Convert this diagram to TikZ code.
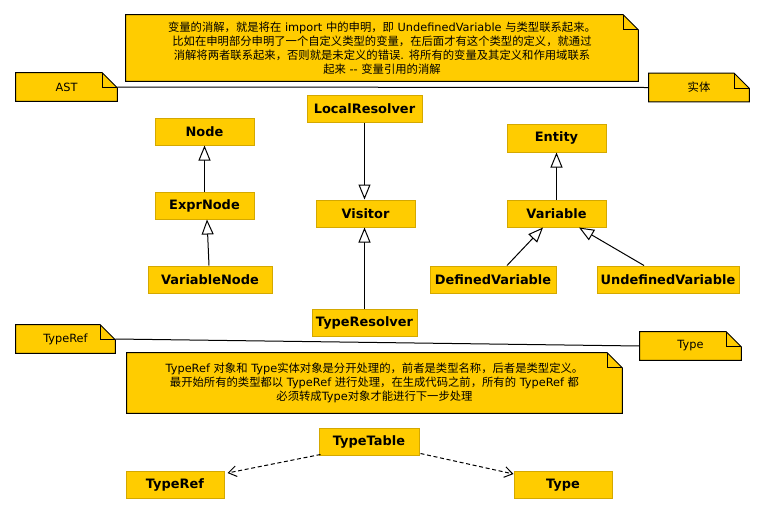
\documentclass[tikz,border=0pt]{standalone}
\usepackage{fontspec}
\setmainfont{DejaVu Sans}
\newfontfamily\cjk{Noto Sans CJK SC}
\usetikzlibrary{arrows.meta,calc,backgrounds}
\newcommand\zh[1]{{\cjk #1}}
\newdimen\upx \upx=0.75pt
\definecolor{yel}{HTML}{FFCC00}
\definecolor{clsborder}{HTML}{D4A800}
\tikzset{
  cls/.style={fill=yel, draw=clsborder, line width=0.75pt, inner sep=0pt,
    minimum height=27\upx, font=\fontsize{9.7pt}{11pt}\selectfont\bfseries},
  note/.style={inner sep=0pt, align=center, font=\fontsize{8.5pt}{10.5pt}\selectfont},
  noteshape/.style={fill=yel, draw=black, line width=0.75pt, line join=miter},
  noteline/.style={draw=black, line width=0.75pt},
  inherit/.style={line width=0.75pt, -{Triangle[length=11.25pt,width=9pt,fill=white]}},
  depend/.style={line width=0.75pt, dash pattern=on 3pt off 2pt, -{Straight Barb[length=6pt,width=8pt]}},
  assoc/.style={line width=0.75pt, draw=black}
}
\newcommand\notefold[1]{%
  \begin{scope}[on background layer]
    \draw[noteshape] (#1.south west) -- (#1.north west) -- ($(#1.north east)+(-15,0)$)
      -- ($(#1.north east)+(0,15)$) -- (#1.south east) -- cycle;
    \draw[noteline] ($(#1.north east)+(-15,0)$) -- ($(#1.north east)+(-15,15)$)
      -- ($(#1.north east)+(0,15)$);
  \end{scope}}
\begin{document}
\begin{tikzpicture}[x=0.75pt,y=-0.75pt]
\useasboundingbox (0,0) rectangle (765,515);

% notes
\node[note, minimum width=512\upx, minimum height=66\upx] (topnote) at (382,48) {%
\zh{变量的消解，就是将在} import \zh{中的申明，即} UndefinedVariable \zh{与类型联系起来。}\\
\zh{比如在申明部分申明了一个自定义类型的变量，在后面才有这个类型的定义，就通过}\\
\zh{消解将两者联系起来，否则就是未定义的错误}. \zh{将所有的变量及其定义和作用域联系}\\
\zh{起来} -{}- \zh{变量引用的消解}};
\notefold{topnote}

\node[note, minimum width=101\upx, minimum height=28\upx] (astn) at (66.5,87) {AST};
\notefold{astn}
\node[note, minimum width=100\upx, minimum height=28\upx] (entn) at (699,87.5) {\zh{实体}};
\notefold{entn}
\draw[assoc] (astn.east) -- (entn.west);

\node[note, minimum width=99\upx, minimum height=28\upx] (trn) at (65.5,339) {TypeRef};
\notefold{trn}
\node[note, minimum width=101\upx, minimum height=28\upx] (tn) at (690.5,346) {Type};
\notefold{tn}
\draw[assoc] (trn.east) -- (tn.west);

\node[note, minimum width=495\upx, minimum height=60\upx] (botnote) at (374.5,383) {%
TypeRef \zh{对象和} Type\zh{实体对象是分开处理的，前者是类型名称，后者是类型定义。}\\
\zh{最开始所有的类型都以} TypeRef \zh{进行处理，在生成代码之前，所有的} TypeRef \zh{都}\\
\zh{必须转成}Type\zh{对象才能进行下一步处理}};
\notefold{botnote}

% classes
\node[cls, minimum width=115\upx] (LocalResolver) at (364.5,108.5) {LocalResolver};
\node[cls, minimum width=99\upx] (Node) at (204.5,131.5) {Node};
\node[cls, minimum width=99\upx] (ExprNode) at (204.5,205.5) {ExprNode};
\node[cls, minimum width=124\upx] (VariableNode) at (210,279.5) {VariableNode};
\node[cls, minimum width=99\upx] (Visitor) at (365.5,213.5) {Visitor};
\node[cls, minimum width=105\upx] (TypeResolver) at (364.5,322.5) {TypeResolver};
\node[cls, minimum width=99\upx, minimum height=28\upx] (Entity) at (556.5,138) {Entity};
\node[cls, minimum width=99\upx] (Variable) at (556.5,213.5) {Variable};
\node[cls, minimum width=126\upx] (DefinedVariable) at (493,279.5) {DefinedVariable};
\node[cls, minimum width=142\upx] (UndefinedVariable) at (668,279.5) {UndefinedVariable};
\node[cls, minimum width=100\upx] (TypeTable) at (369,441.5) {TypeTable};
\node[cls, minimum width=98\upx] (TypeRefC) at (175,485) {TypeRef};
\node[cls, minimum width=98\upx] (TypeC) at (563,485) {Type};

% inheritance
\draw[inherit] (ExprNode) -- (Node);
\draw[inherit] ($(VariableNode.north)+(-1,0)$) -- ($(ExprNode.south)+(2.5,0)$);
\draw[inherit] (LocalResolver) -- (LocalResolver |- Visitor.north);
\draw[inherit] (TypeResolver) -- (TypeResolver |- Visitor.south);
\draw[inherit] (Variable) -- (Entity);
\draw[inherit] ($(DefinedVariable.north)+(14,0)$) -- ($(Variable.south)+(-13.5,0)$);
\draw[inherit] ($(UndefinedVariable.north)+(-24,0)$) -- ($(Variable.south)+(22.5,0)$);

% dependencies
\draw[depend] ($(TypeTable.south west)+(2,-1)$) -- ($(TypeRefC.north east)+(3,2)$);
\draw[depend] ($(TypeTable.south east)+(1,-2)$) -- ($(TypeC.north west)+(0,3)$);
\end{tikzpicture}
\end{document}
